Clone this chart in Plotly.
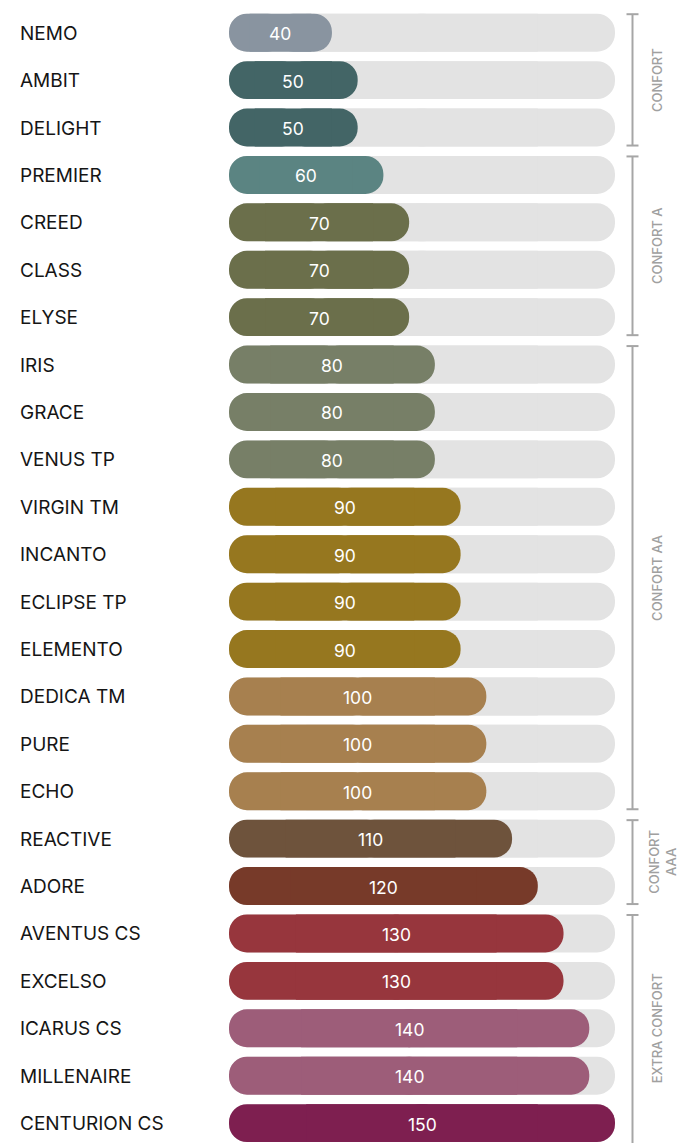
import plotly.graph_objects as go

names = ["NEMO", "AMBIT", "DELIGHT", "PREMIER", "CREED", "CLASS", "ELYSE",
         "IRIS", "GRACE", "VENUS TP", "VIRGIN TM", "INCANTO", "ECLIPSE TP",
         "ELEMENTO", "DEDICA TM", "PURE", "ECHO", "REACTIVE", "ADORE",
         "AVENTUS CS", "EXCELSO", "ICARUS CS", "MILLENAIRE", "CENTURION CS"]
values = [40, 50, 50, 60, 70, 70, 70, 80, 80, 80, 90, 90, 90, 90,
          100, 100, 100, 110, 120, 130, 130, 140, 140, 150]
colors = ["#8994a0", "#436566", "#436566", "#5b8482", "#6b6f4b", "#6b6f4b",
          "#6b6f4b", "#777f67", "#777f67", "#777f67", "#96771f", "#96771f",
          "#96771f", "#96771f", "#a7804f", "#a7804f", "#a7804f", "#6e533c",
          "#773a29", "#97363d", "#97363d", "#9d5d79", "#9d5d79", "#7e1f50"]
max_value = 150
groups = [("CONFORT", 0, 2), ("CONFORT A", 3, 6), ("CONFORT AA", 7, 16),
          ("CONFORT<br>AAA", 17, 18), ("EXTRA CONFORT", 19, 23)]

W, H = 678, 1143
ML, MT = 229, 9
PW = 386
MR = W - ML - PW
BAR_W = 0.80
TRACK = "#e3e3e3"
BRACKET = "#a6a6a6"

fig = go.Figure()


def rounded_bar(vals, cols):
    # left piece rounded at 0, square middle piece, right piece rounded at value
    pieces = [
        ([v * 0.55 for v in vals], [-v * 0.55 for v in vals], "50%"),
        ([v * 0.45 for v in vals], [v * 0.55 for v in vals], "50%"),
        ([v * 0.2 for v in vals], [v * 0.6 for v in vals], 0),
    ]
    for base, length, rad in pieces:
        fig.add_trace(go.Bar(
            y=names, x=length, base=base, orientation="h",
            width=BAR_W,
            marker=dict(color=cols, cornerradius=rad, line=dict(width=0)),
            hoverinfo="skip", showlegend=False,
        ))


rounded_bar([max_value] * len(names), [TRACK] * len(names))
rounded_bar(values, colors)

# value labels centred in each bar
for n, v in zip(names, values):
    fig.add_annotation(
        x=v / 2, xref="x", y=n, yref="y", text=str(v), showarrow=False,
        xanchor="center", yanchor="middle", yshift=-1,
        font=dict(family="Inter", size=17.5, color="white"),
    )

# left labels
for n in names:
    fig.add_annotation(
        x=(18 - ML) / PW, xref="paper", y=n, yref="y",
        text=n, showarrow=False, xanchor="left", yanchor="middle",
        yshift=-0.5,
        font=dict(family="Inter", size=19, color="#151515"),
    )

# group brackets
bx = (632.5 - ML) / PW
cap = 6 / PW
last = len(names) - 1
for label, i0, i1 in groups:
    y0 = i0 - 0.39
    y1 = i1 + 0.38 if i1 != last else i1 + 0.8
    fig.add_shape(type="line", xref="paper", yref="y", x0=bx, x1=bx,
                  y0=y0, y1=y1, line=dict(color=BRACKET, width=2))
    fig.add_shape(type="line", xref="paper", yref="y", x0=bx - cap,
                  x1=bx + cap, y0=y0, y1=y0, line=dict(color=BRACKET, width=2))
    if i1 != last:
        fig.add_shape(type="line", xref="paper", yref="y", x0=bx - cap,
                      x1=bx + cap, y0=y1, y1=y1,
                      line=dict(color=BRACKET, width=2))
    tx = 657 if "<br>" not in label else 662.5
    fig.add_annotation(
        x=(tx - ML) / PW, xref="paper", y=(i0 + i1) / 2, yref="y",
        text=label, showarrow=False, textangle=-90,
        xanchor="center", yanchor="middle",
        font=dict(family="Inter", size=13, color="#a0a0a0", weight=500),
    )

fig.update_layout(
    width=W, height=H,
    margin=dict(l=ML, r=MR, t=MT, b=0, pad=0),
    barmode="overlay",
    paper_bgcolor="white", plot_bgcolor="white",
    xaxis=dict(range=[0, max_value], visible=False, fixedrange=True),
    yaxis=dict(type="category", categoryorder="array", categoryarray=names,
               range=[23.42, -0.5], visible=False, fixedrange=True),
    showlegend=False,
)

fig.write_html("out.html", config={"displayModeBar": False},
               post_script="document.body.style.margin='0px';")
